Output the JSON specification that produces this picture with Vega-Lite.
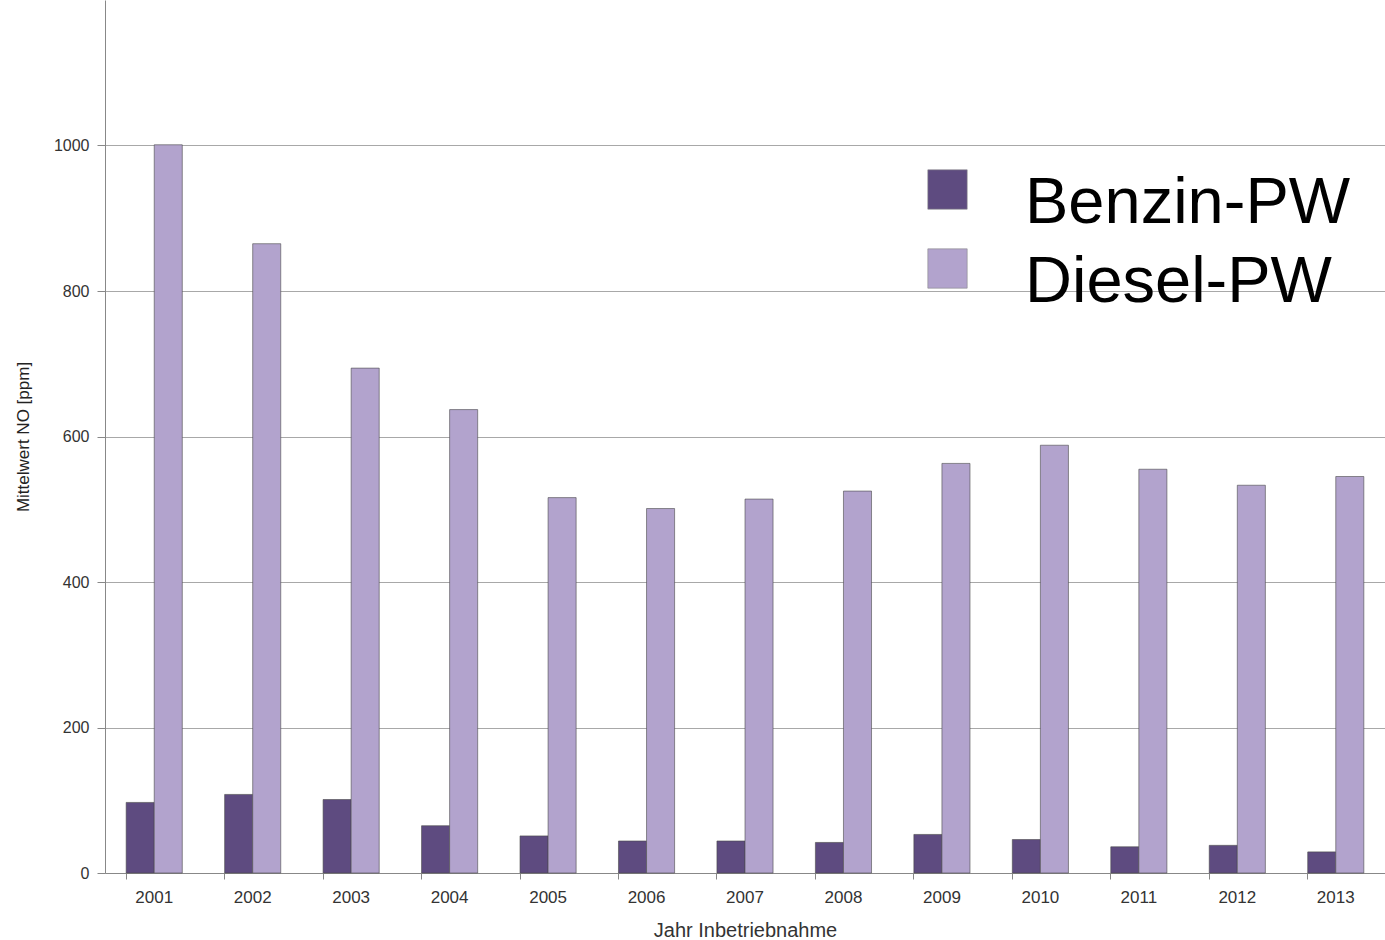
{
  "$schema": "https://vega.github.io/schema/vega-lite/v6.json",
  "autosize": "none",
  "padding": {"left": 105, "top": 0, "right": 0, "bottom": 67},
  "width": 1280,
  "height": 873,
  "background": "white",
  "config": {
    "view": {"stroke": null},
    "font": "Liberation Sans"
  },
  "data": {
    "values": [
      {"jahr": "2001", "typ": "Benzin-PW", "wert": 97},
      {"jahr": "2001", "typ": "Diesel-PW", "wert": 1001},
      {"jahr": "2002", "typ": "Benzin-PW", "wert": 108},
      {"jahr": "2002", "typ": "Diesel-PW", "wert": 865},
      {"jahr": "2003", "typ": "Benzin-PW", "wert": 101},
      {"jahr": "2003", "typ": "Diesel-PW", "wert": 694},
      {"jahr": "2004", "typ": "Benzin-PW", "wert": 65},
      {"jahr": "2004", "typ": "Diesel-PW", "wert": 637},
      {"jahr": "2005", "typ": "Benzin-PW", "wert": 51},
      {"jahr": "2005", "typ": "Diesel-PW", "wert": 516},
      {"jahr": "2006", "typ": "Benzin-PW", "wert": 44},
      {"jahr": "2006", "typ": "Diesel-PW", "wert": 501},
      {"jahr": "2007", "typ": "Benzin-PW", "wert": 44},
      {"jahr": "2007", "typ": "Diesel-PW", "wert": 514},
      {"jahr": "2008", "typ": "Benzin-PW", "wert": 42},
      {"jahr": "2008", "typ": "Diesel-PW", "wert": 525},
      {"jahr": "2009", "typ": "Benzin-PW", "wert": 53},
      {"jahr": "2009", "typ": "Diesel-PW", "wert": 563},
      {"jahr": "2010", "typ": "Benzin-PW", "wert": 46},
      {"jahr": "2010", "typ": "Diesel-PW", "wert": 588},
      {"jahr": "2011", "typ": "Benzin-PW", "wert": 36},
      {"jahr": "2011", "typ": "Diesel-PW", "wert": 555},
      {"jahr": "2012", "typ": "Benzin-PW", "wert": 38},
      {"jahr": "2012", "typ": "Diesel-PW", "wert": 533},
      {"jahr": "2013", "typ": "Benzin-PW", "wert": 29},
      {"jahr": "2013", "typ": "Diesel-PW", "wert": 545}
    ]
  },
  "mark": {"type": "bar", "stroke": "#4a4a4a", "strokeWidth": 0.6},
  "encoding": {
    "x": {
      "field": "jahr",
      "type": "nominal",
      "scale": {"paddingInner": 0.43, "paddingOuter": 0.215},
      "axis": {
        "title": "Jahr Inbetriebnahme",
        "titleFontSize": 20,
        "titleFontWeight": "normal",
        "titleColor": "#333333",
        "titlePadding": 15,
        "labelAngle": 0,
        "labelFontSize": 17,
        "labelColor": "#333333",
        "labelPadding": 10,
        "bandPosition": 0,
        "ticks": true,
        "tickSize": 6,
        "tickColor": "#888888",
        "domainColor": "#888888",
        "grid": false
      }
    },
    "xOffset": {"field": "typ", "type": "nominal", "scale": {"paddingInner": 0, "paddingOuter": 0}},
    "y": {
      "field": "wert",
      "type": "quantitative",
      "scale": {"domain": [0, 1200], "nice": false},
      "axis": {
        "title": "Mittelwert NO [ppm]",
        "titleFontSize": 17,
        "titleFontWeight": "normal",
        "titleColor": "#222222",
        "titlePadding": 21,
        "values": [0, 200, 400, 600, 800, 1000],
        "format": "d",
        "labelFontSize": 16,
        "labelColor": "#333333",
        "labelPadding": 8,
        "tickSize": 8,
        "tickColor": "#888888",
        "domainColor": "#888888",
        "grid": true,
        "gridColor": "#a8a8a8",
        "gridWidth": 1
      }
    },
    "color": {
      "field": "typ",
      "type": "nominal",
      "scale": {"domain": ["Benzin-PW", "Diesel-PW"], "range": ["#5e4b80", "#b2a3cd"]},
      "legend": {
        "title": null,
        "orient": "none",
        "legendX": 810,
        "legendY": 157,
        "symbolType": "square",
        "symbolSize": 1550,
        "symbolStrokeColor": "#888888",
        "symbolStrokeWidth": 0.6,
        "symbolOpacity": 1,
        "labelFontSize": 65,
        "labelColor": "#000000",
        "labelFont": "Liberation Sans",
        "labelOffset": 45,
        "labelLimit": 0,
        "rowPadding": -4,
        "encode": {"labels": {"update": {"dy": {"value": 13}}}}
      }
    }
  }
}
